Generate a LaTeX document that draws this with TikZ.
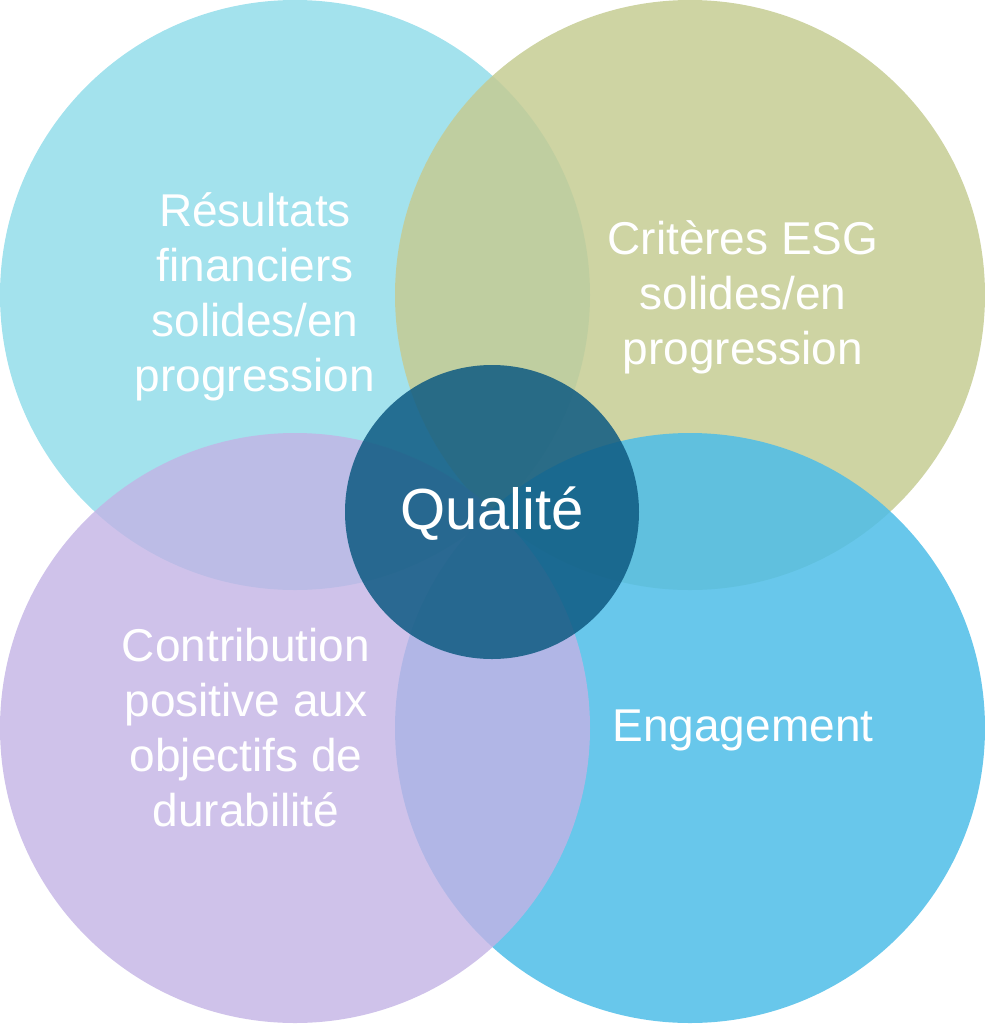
\documentclass[tikz,border=0pt]{standalone}
\usepackage{fontspec}
\setmainfont{Liberation Sans}
\definecolor{cyanl}{HTML}{9EE0EC}
\definecolor{olive}{HTML}{C5CC93}
\definecolor{lilac}{HTML}{C3B3E5}
\definecolor{skyb}{HTML}{4DBDE8}
\definecolor{deepb}{HTML}{0E5A82}
\tikzset{
  petal/.style={circle, minimum size=590\pgflinewidth, inner sep=0pt, fill opacity=0.85, text opacity=1},
  lbl/.style={text=white, align=center, font=\fontsize{23}{27.5}\selectfont}
}
\begin{document}
\begin{tikzpicture}[x=0.5pt,y=-0.5pt]
    \useasboundingbox (0,0) rectangle (985,1024);
    \fill[cyanl, fill opacity=0.95] (295,295) circle (295);
    \fill[olive, fill opacity=0.85] (690,295) circle (295);
    \fill[skyb, fill opacity=0.85] (690,728) circle (295);
    \fill[lilac, fill opacity=0.8] (295,728) circle (295);
    \fill[deepb, fill opacity=0.85] (492,512) circle (147);

    \node[lbl] (res) at (255,297) {Résultats\\financiers\\solides/en\\progression};
    \node[lbl] (esg) at (743,297) {Critères ESG\\solides/en\\progression};
    \node[lbl] (con) at (246,728) {Contribution\\positive aux\\objectifs de\\durabilité};
    \node[lbl] (eng) at (743,730) {Engagement};
    \node[text=white, font=\fontsize{29}{34}\selectfont] (qual) at (492,514) {Qualité};
\end{tikzpicture}
\end{document}
